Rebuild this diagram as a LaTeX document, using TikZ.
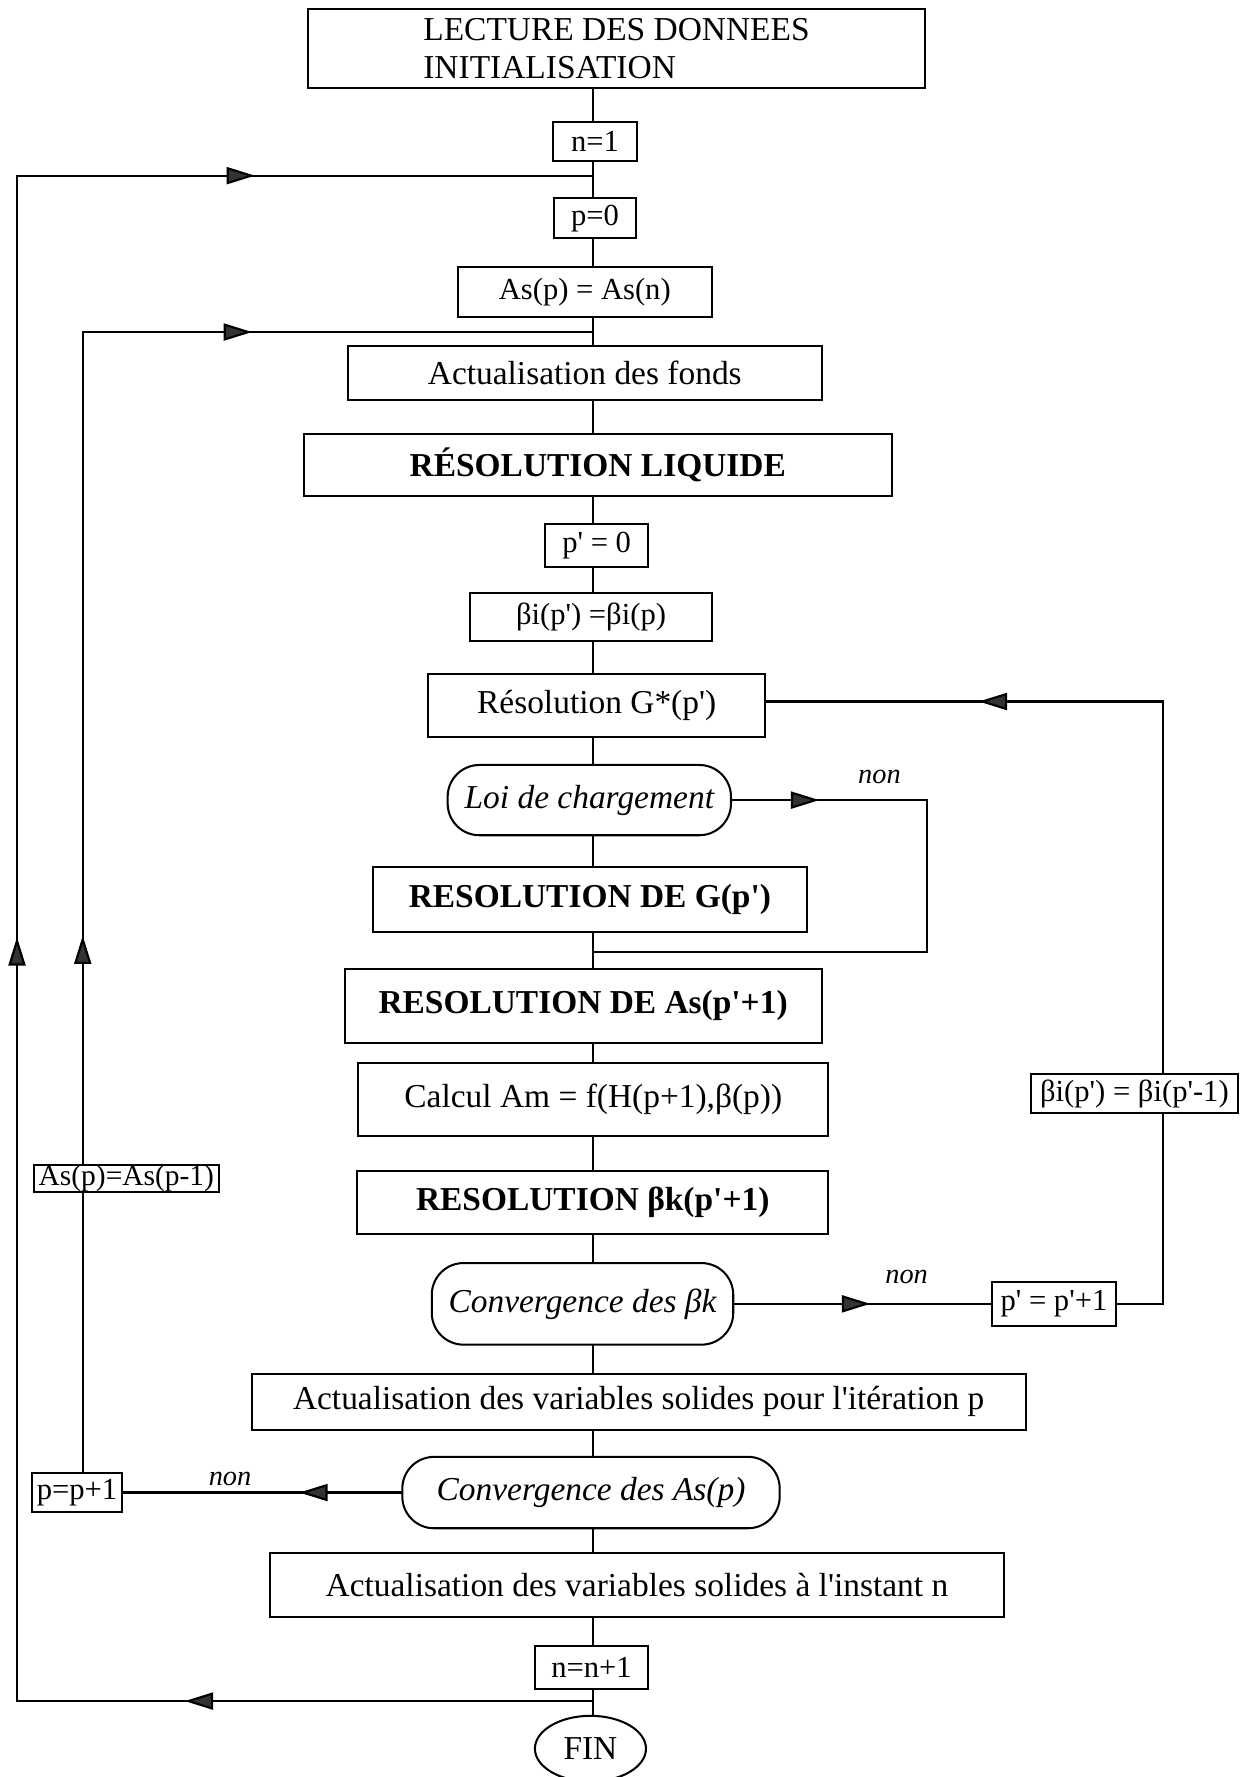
\documentclass[tikz,border=0pt]{standalone}
\usepackage{fontspec}
\setmainfont{Liberation Serif}[Ligatures=TeXOff]
\usetikzlibrary{arrows.meta,decorations.markings,shapes.geometric}
\pgfdeclarelayer{bg}
\pgfsetlayers{bg,main}
\tikzset{
  conn/.style={line width=1.9pt, line cap=rect, line join=miter},
  bx/.style={draw, line width=1.8pt, fill=white, inner sep=0pt, align=center,
    font=\fontsize{29.5}{33}\selectfont},
  bbx/.style={bx, font=\fontsize{29.5}{33}\selectfont\bfseries},
  sbx/.style={bx, font=\fontsize{27}{30}\selectfont},
  stad/.style={bx, rounded corners=28pt, font=\fontsize{29.5}{33}\selectfont\itshape},
  finnode/.style={bx, ellipse},
  tip/.style={postaction={decorate,decoration={markings,
    mark=at position #1 with {\arrow{Triangle[length=25pt,width=15pt,fill=black!80]}}}}},
  nonlbl/.style={font=\fontsize{25}{28}\selectfont\itshape, inner sep=0pt},
}
\begin{document}
\begin{tikzpicture}[x=1pt,y=-1pt]
\useasboundingbox (0,0) rectangle (1099,1568);
\coordinate (ax) at (523,0);

% main column
\node[bx, align=left, minimum width=544pt, minimum height=70pt] (lect) at (544,43)
  {LECTURE DES DONNEES\\INITIALISATION};
\node[sbx, minimum width=74pt, minimum height=34pt] (n1) at (525,125) {n=1};
\node[sbx, minimum width=72pt, minimum height=35pt] (p0) at (525,192.5) {p=0};
\node[sbx, minimum width=224pt, minimum height=44pt] (asp) at (516,258) {As(p) = As(n)};
\node[bx, minimum width=418pt, minimum height=48pt] (fonds) at (516,329) {Actualisation des fonds};
\node[bbx, minimum width=519pt, minimum height=55pt] (liq) at (527.5,410.5) {RÉSOLUTION LIQUIDE};
\node[sbx, minimum width=91pt, minimum height=38pt] (pp0) at (526.5,481) {p' = 0};
\node[sbx, minimum width=213pt, minimum height=43pt] (beta0) at (521.5,544.5) {βi(p') =βi(p)};
\node[bx, minimum width=297pt, minimum height=55pt] (gstar) at (526.5,622.5) {Résolution G*(p')};
\node[stad, minimum width=250pt, minimum height=62pt] (loi) at (520,706) {Loi de chargement};
\node[bbx, minimum width=383pt, minimum height=57pt] (resg) at (520.5,793.5) {RESOLUTION DE G(p')};
\node[bbx, minimum width=421pt, minimum height=65pt] (resas) at (514.5,887.5) {RESOLUTION DE As(p'+1)};
\node[bx, minimum width=415pt, minimum height=64pt] (calc) at (523.5,970) {Calcul Am = f(H(p+1),β(p))};
\node[bbx, minimum width=416pt, minimum height=56pt] (resbk) at (523,1061) {RESOLUTION βk(p'+1)};
\node[stad, minimum width=266pt, minimum height=72pt] (convbk) at (514,1150.5) {Convergence des βk};
\node[bx, minimum width=683pt, minimum height=50pt] (actp) at (563.5,1237)
  {Actualisation des variables solides pour l'itération p};
\node[stad, minimum width=333pt, minimum height=63pt] (convas) at (521.5,1317) {Convergence des As(p)};
\node[bx, minimum width=648pt, minimum height=57pt] (actn) at (562,1398.5)
  {Actualisation des variables solides à l'instant n};
\node[sbx, minimum width=100pt, minimum height=38pt] (nn1) at (522,1471) {n=n+1};
\node[finnode, minimum width=98pt, minimum height=58pt] (fin) at (521,1543) {FIN};

% side nodes
\node[sbx, minimum width=110pt, minimum height=39pt] (ppp1) at (930,1150.5) {p' = p'+1};
\node[sbx, minimum width=182pt, minimum height=34pt] (betaup) at (1001,965) {βi(p') = βi(p'-1)};
\node[sbx, minimum width=80pt, minimum height=35pt] (pplus) at (68,1317) {p=p+1};
\node[sbx, font=\fontsize{26}{28}\selectfont, minimum width=163pt, minimum height=24pt] (asupd) at (111.5,1040) {As(p)=As(p-1)};

% labels
\node[nonlbl] (non1) at (776,686) {non};
\node[nonlbl] (non2) at (800,1127) {non};
\node[nonlbl] (non3) at (203,1305) {non};

% junctions and corners
\coordinate (j1) at (523,155);
\coordinate (j2) at (523,293);
\coordinate (j3) at (523,840);
\coordinate (j4) at (523,1501);
\coordinate (cL1) at (15,1501);
\coordinate (cL2) at (15,155);
\coordinate (cI) at (73,293);
\coordinate (cR1) at (1026,1150.5);
\coordinate (cR2) at (1026,619);
\coordinate (cG1) at (818,706);
\coordinate (cG2) at (818,840);

\begin{pgfonlayer}{bg}
\foreach \a/\b in {lect/n1, n1/p0, p0/asp, asp/fonds, fonds/liq, liq/pp0, pp0/beta0,
  beta0/gstar, gstar/loi, loi/resg, resg/resas, resas/calc, calc/resbk, resbk/convbk,
  convbk/actp, actp/convas, convas/actn, actn/nn1, nn1/fin}
  \draw[conn] (\a.south -| ax) -- (\b.north -| ax);
% outer loop (time step)
\draw[conn, tip=360pt, tip=1182pt, tip=2064pt] (j4) -- (cL1) -- (cL2) -- (j1);
% inner loop (iteration p)
\draw[conn, tip=473pt, tip=1155pt] (pplus.north -| cI) -- (cI) -- (j2);
% right loop (iteration p')
\draw[conn, tip=734pt] (ppp1.east) -- (cR1) -- (cR2) -- (gstar.east |- cR2);
% loading law loop
\draw[conn, tip=77pt] (loi.east) -- (cG1) -- (cG2) -- (j3);
% non branches
\draw[conn, tip=120pt] (convbk.east) -- (ppp1.west);
\draw[conn, tip=90pt] (convas.west) -- (pplus.east);
\end{pgfonlayer}
\end{tikzpicture}
\end{document}
